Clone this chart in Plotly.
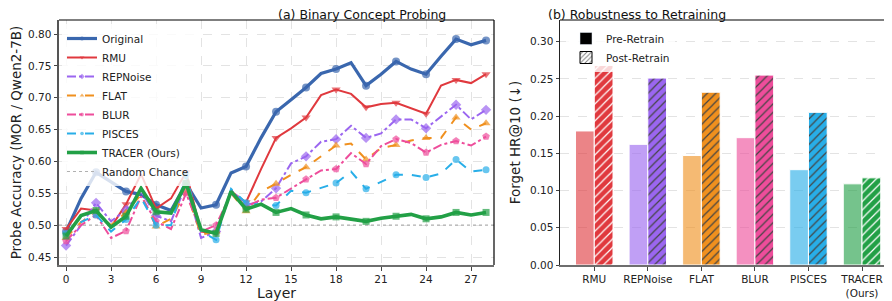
import plotly.graph_objects as go

layers = list(range(29))
original = [0.490, 0.542, 0.583, 0.568, 0.553, 0.548, 0.532, 0.523, 0.565, 0.527, 0.532, 0.582, 0.592, 0.637, 0.678, 0.697, 0.716, 0.738, 0.745, 0.755, 0.719, 0.737, 0.757, 0.745, 0.737, 0.765, 0.792, 0.783, 0.790]
rmu = [0.494, 0.526, 0.523, 0.497, 0.533, 0.580, 0.526, 0.542, 0.583, 0.490, 0.487, 0.553, 0.536, 0.588, 0.637, 0.652, 0.669, 0.704, 0.713, 0.706, 0.685, 0.690, 0.692, 0.684, 0.675, 0.719, 0.728, 0.723, 0.737]
repnoise = [0.468, 0.500, 0.535, 0.506, 0.524, 0.553, 0.515, 0.506, 0.563, 0.480, 0.490, 0.555, 0.532, 0.537, 0.558, 0.597, 0.608, 0.631, 0.635, 0.656, 0.637, 0.644, 0.666, 0.666, 0.652, 0.670, 0.689, 0.666, 0.681]
flat = [0.480, 0.505, 0.519, 0.500, 0.520, 0.548, 0.498, 0.510, 0.553, 0.485, 0.490, 0.550, 0.522, 0.553, 0.565, 0.579, 0.591, 0.608, 0.625, 0.628, 0.603, 0.621, 0.626, 0.633, 0.637, 0.637, 0.669, 0.650, 0.660]
blur = [0.475, 0.500, 0.516, 0.480, 0.491, 0.545, 0.506, 0.494, 0.550, 0.490, 0.500, 0.550, 0.529, 0.540, 0.543, 0.558, 0.572, 0.586, 0.588, 0.613, 0.596, 0.624, 0.635, 0.629, 0.614, 0.626, 0.632, 0.625, 0.639]
pisces = [0.487, 0.505, 0.516, 0.490, 0.509, 0.543, 0.500, 0.500, 0.579, 0.490, 0.477, 0.557, 0.535, 0.532, 0.531, 0.554, 0.551, 0.558, 0.566, 0.584, 0.557, 0.568, 0.579, 0.579, 0.575, 0.581, 0.603, 0.584, 0.587]
tracer = [0.483, 0.515, 0.523, 0.497, 0.514, 0.558, 0.521, 0.519, 0.566, 0.493, 0.487, 0.553, 0.525, 0.533, 0.520, 0.526, 0.516, 0.510, 0.513, 0.510, 0.506, 0.511, 0.514, 0.517, 0.510, 0.513, 0.520, 0.516, 0.520]
random_chance = 0.50

methods = ["RMU", "REPNoise", "FLAT", "BLUR", "PISCES", "TRACER<br>(Ours)"]
pre_retrain = [0.180, 0.162, 0.147, 0.171, 0.128, 0.109]
post_retrain = [0.268, 0.251, 0.232, 0.255, 0.205, 0.117]

FONT = "DejaVu Sans"
C = {
    "Original": "#3A67AE", "RMU": "#E0393E", "REPNoise": "#9B66F0", "FLAT": "#F0901E",
    "BLUR": "#EE4D9B", "PISCES": "#28AEE8", "TRACER (Ours)": "#22A046",
}
bar_colors = [C["RMU"], C["REPNoise"], C["FLAT"], C["BLUR"], C["PISCES"], C["TRACER (Ours)"]]

series = [
    ("Original", original, "circle", "solid", 3.2, 8),
    ("RMU", rmu, "triangle-down", "solid", 2, 8),
    ("REPNoise", repnoise, "diamond", "dashdot", 2, 8),
    ("FLAT", flat, "triangle-up", "dash", 2, 8),
    ("BLUR", blur, "pentagon", "dashdot", 2, 8),
    ("PISCES", pisces, "circle", "dash", 2, 7),
    ("TRACER (Ours)", tracer, "square", "solid", 3.6, 7),
]

# page is rendered with the default 8px body margin: map page pixels to paper coords
OX, OY, W, H = 8, 8, 884, 293
def px(x):
    return (x - OX) / W
def py(y):
    return 1 - (y - OY) / H

fig = go.Figure()
fig.add_trace(go.Scatter(
    x=[-0.47, 28.53], y=[random_chance, random_chance], mode="lines",
    line=dict(color="#b0b0b0", width=1.2, dash="dot"), name="Random Chance",
    legendrank=100, xaxis="x", yaxis="y", legend="legend"))
for i, (name, vals, sym, dash, lw, ms) in enumerate(series):
    sizes = [ms if l % 2 == 0 else 0 for l in layers]
    fig.add_trace(go.Scatter(
        x=layers, y=vals, mode="lines+markers", name=name,
        line=dict(color=C[name], width=lw, dash=dash),
        marker=dict(symbol=sym, size=sizes, color=C[name], line=dict(width=0)),
        legendrank=i + 1, xaxis="x", yaxis="y", legend="legend"))

fig.add_trace(go.Bar(
    x=methods, y=pre_retrain, name="Pre-Retrain", showlegend=False,
    marker=dict(color=bar_colors, opacity=0.62, line=dict(color="white", width=1)),
    xaxis="x2", yaxis="y2"))
fig.add_trace(go.Bar(
    x=methods, y=post_retrain, name="Post-Retrain", showlegend=False,
    marker=dict(color=bar_colors, line=dict(color="white", width=1),
                pattern=dict(shape="/", fgcolor="white", fgopacity=1,
                             size=6, solidity=0.2, fillmode="overlay")),
    xaxis="x2", yaxis="y2"))
# legend-only entries on a hidden axis
fig.add_trace(go.Bar(x=[0], y=[None], name="Pre-Retrain", marker=dict(color="black"),
                     xaxis="x3", yaxis="y3", legend="legend2"))
fig.add_trace(go.Bar(x=[0], y=[None], name="Post-Retrain",
                     marker=dict(color="white", line=dict(color="black", width=1),
                                 pattern=dict(shape="/", fgcolor="black", bgcolor="white", size=4, solidity=0.3)),
                     xaxis="x3", yaxis="y3", legend="legend2"))

X1 = [px(59), px(494)]
X2 = [px(560), 1.0]
YD = [py(265), py(20)]
tickfont = dict(family=FONT, size=10.5, color="#222")
grid = dict(showgrid=True, gridcolor="#e3e3e3", griddash="dash", gridwidth=0.8)

fig.update_layout(
    width=W, height=H, margin=dict(l=0, r=0, t=0, b=0),
    paper_bgcolor="white", plot_bgcolor="white",
    font=dict(family=FONT, size=10.5, color="#222"),
    barmode="group", bargap=0.3, bargroupgap=0.0,
    xaxis=dict(domain=X1, range=[-0.47, 28.53], tickvals=list(range(0, 28, 3)),
               ticks="outside", ticklen=3.5, tickcolor="#444", tickfont=tickfont,
               showline=True, linecolor="#6e6e6e", linewidth=2, zeroline=False, automargin=False,
               title=dict(text="Layer", font=dict(family=FONT, size=14, color="#222"), standoff=3),
               anchor="y", **grid),
    yaxis=dict(domain=YD, range=[0.4375, 0.822], tickvals=[0.45, 0.5, 0.55, 0.6, 0.65, 0.7, 0.75, 0.8],
               tickformat=".2f", ticks="outside", ticklen=3.5, tickcolor="#444", tickfont=tickfont,
               showline=True, linecolor="#555", linewidth=2, zeroline=False, automargin=False,
               title=dict(text="Probe Accuracy (MOR / Qwen2-7B)", font=dict(family=FONT, size=13.5, color="#222"), standoff=6),
               anchor="x", **grid),
    xaxis2=dict(domain=X2, type="category", range=[-0.64, 5.56], ticks="outside", ticklen=3.5,
                tickcolor="#444", tickfont=tickfont, showline=True, linecolor="#6e6e6e", linewidth=2,
                showgrid=False, zeroline=False, anchor="y2", automargin=False),
    yaxis2=dict(domain=YD, range=[0, 0.329], tickvals=[0, 0.05, 0.1, 0.15, 0.2, 0.25, 0.3],
                tickformat=".2f", ticks="outside", ticklen=3.5, tickcolor="#444", tickfont=tickfont,
                showline=True, linecolor="#222", linewidth=1, zeroline=False, automargin=False,
                title=dict(text="Forget HR@10 (↓)", font=dict(family=FONT, size=13.5, color="#222"), standoff=6),
                anchor="x2", **grid),
    xaxis3=dict(domain=[0.99, 1.0], visible=False, anchor="y3"),
    yaxis3=dict(domain=[0.0, 0.01], visible=False, anchor="x3"),
    legend=dict(x=px(62), y=py(24), xanchor="left", yanchor="top", bgcolor="rgba(255,255,255,0.8)",
                font=dict(family=FONT, size=10.5, color="#222"), tracegroupgap=0, itemwidth=30,
                traceorder="normal"),
    legend2=dict(x=px(566), y=py(24), xanchor="left", yanchor="top", bgcolor="rgba(255,255,255,0.8)",
                 font=dict(family=FONT, size=10.5, color="#222"), tracegroupgap=0, itemwidth=30),
    shapes=[
        dict(type="line", xref="paper", yref="paper", x0=X1[0], x1=X1[1], y0=YD[1], y1=YD[1], line=dict(color="black", width=1.2)),
        dict(type="line", xref="paper", yref="paper", x0=X1[1], x1=X1[1], y0=YD[0], y1=YD[1], line=dict(color="black", width=1.2)),
        dict(type="line", xref="paper", yref="paper", x0=X2[0], x1=X2[1], y0=YD[1], y1=YD[1], line=dict(color="black", width=1.2)),
    ],
    annotations=[
        dict(text="(a) Binary Concept Probing", x=(X1[0] + X1[1]) / 2, y=1.0, xref="paper", yref="paper",
             showarrow=False, font=dict(family=FONT, size=12.5, color="#111"), yanchor="top",
             borderpad=0, yshift=2),
        dict(text="(b) Robustness to Retraining", x=px(727), y=1.0, xref="paper", yref="paper",
             showarrow=False, font=dict(family=FONT, size=12.5, color="#111"), yanchor="top",
             borderpad=0, yshift=2),
    ],
)

fig.write_html("out.html")
